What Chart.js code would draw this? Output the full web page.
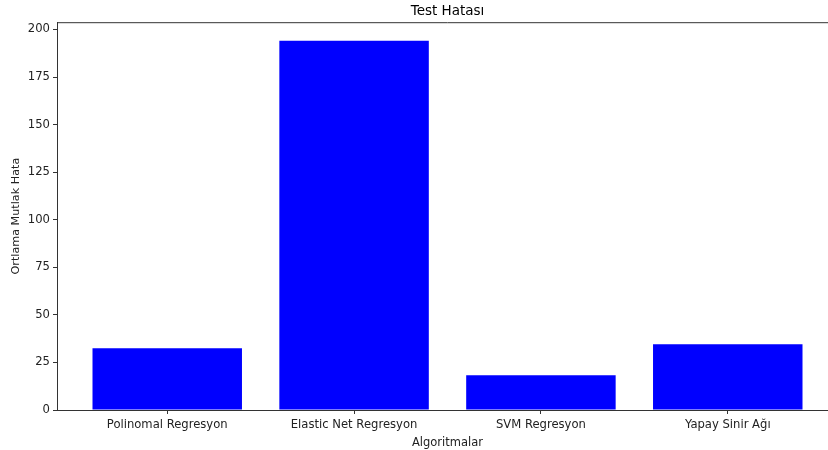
<!DOCTYPE html>
<html>
<head>
<meta charset="utf-8">
<script src="https://cdn.jsdelivr.net/npm/chart.js@4/dist/chart.umd.min.js"></script>
<style>
  html, body { margin: 0; padding: 0; overflow: hidden; background: #fff; }
  #wrap { width: 838px; height: 450px; }
</style>
</head>
<body>
<div id="wrap"><canvas id="grafik"></canvas></div>
<script>
// veriler
const algoritmalar = ['Polinomal Regresyon', 'Elastic Net Regresyon', 'SVM Regresyon', 'Yapay Sinir Ağı'];
const hataDegerleri = [32.4, 194.1, 18.2, 34.6];
const yTikleri = [0, 25, 50, 75, 100, 125, 150, 175, 200];

const yaziTipi = "'DejaVu Sans', sans-serif";

// ust kenar cizgisi
const cerceve = {
    id: 'cerceve',
    afterDraw(chart) {
        const a = chart.chartArea;
        const ctx = chart.ctx;
        ctx.save();
        ctx.strokeStyle = '#333';
        ctx.lineWidth = 1;
        ctx.beginPath();
        ctx.moveTo(a.left, a.top + 0.5);
        ctx.lineTo(chart.width, a.top + 0.5);
        ctx.stroke();
        ctx.restore();
    }
};

new Chart(document.getElementById('grafik'), {
    type: 'bar',
    data: {
        datasets: [{
            data: hataDegerleri.map((v, i) => ({ x: i, y: v })),
            backgroundColor: '#0000ff',
            borderWidth: 0,
            categoryPercentage: 0.8,
            barPercentage: 1.0
        }]
    },
    options: {
        responsive: true,
        maintainAspectRatio: false,
        animation: false,
        layout: { padding: 0 },
        plugins: {
            legend: { display: false },
            tooltip: { enabled: false },
            title: {
                display: true,
                fullSize: false,
                text: 'Test Hatası',
                color: '#000',
                font: { family: yaziTipi, size: 13.5, weight: 'normal' },
                padding: { top: 3, bottom: 3 }
            }
        },
        scales: {
            x: {
                type: 'linear',
                min: -0.59,
                max: 3.59,
                offset: false,
                grid: { offset: false, drawOnChartArea: false, drawTicks: true, tickLength: 4, color: '#333' },
                border: { display: true, color: '#333', width: 1 },
                afterBuildTicks: s => { s.ticks = algoritmalar.map((_, i) => ({ value: i })); },
                ticks: {
                    color: '#222',
                    font: { family: yaziTipi, size: 11.6 },
                    padding: 4,
                    maxRotation: 0,
                    autoSkip: false,
                    callback: v => algoritmalar[v]
                },
                title: {
                    display: true,
                    text: 'Algoritmalar',
                    color: '#222',
                    font: { family: yaziTipi, size: 11.5 },
                    padding: { top: 0, bottom: 0 }
                },
                afterFit: s => { s.height = 40; }
            },
            y: {
                min: 0,
                max: 203.8,
                grid: { drawOnChartArea: false, drawTicks: true, tickLength: 4, color: '#333' },
                border: { display: true, color: '#333', width: 1 },
                afterBuildTicks: s => { s.ticks = yTikleri.map(v => ({ value: v })); },
                ticks: {
                    color: '#222',
                    font: { family: yaziTipi, size: 11.6 },
                    padding: 3
                },
                title: {
                    display: true,
                    text: 'Ortlama Mutlak Hata',
                    color: '#222',
                    font: { family: yaziTipi, size: 11.2 },
                    padding: { top: 9, bottom: 4 }
                },
                afterFit: s => { s.width = 57; }
            }
        }
    },
    plugins: [cerceve]
});
</script>
</body>
</html>
